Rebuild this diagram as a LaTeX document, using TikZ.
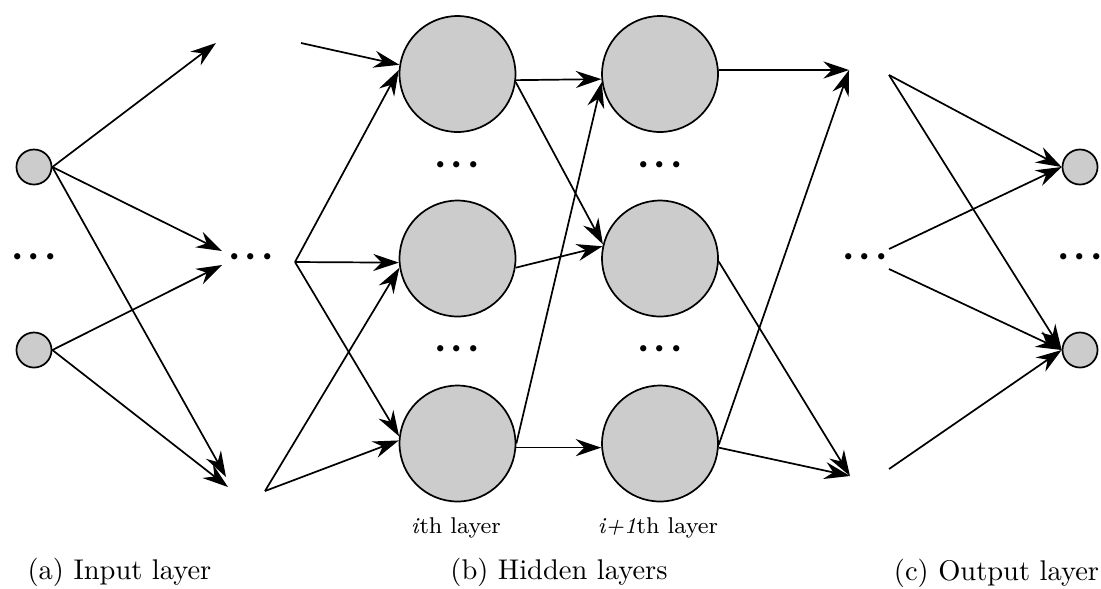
\documentclass[tikz,border=0pt]{standalone}
\usetikzlibrary{arrows.meta}
\begin{document}
\begin{tikzpicture}[x=0.351pt,y=-0.351pt,
  edge/.style={line width=0.6pt,-{Stealth[length=9pt,width=6pt,inset=3pt]}},
  neuron/.style={circle,draw,line width=0.6pt,fill=black!20,inner sep=0pt},
  bigneuron/.style={neuron,minimum size=40.7pt},
  smallneuron/.style={neuron,minimum size=12.3pt},
  ellipsis/.style={font=\huge,inner sep=0pt},
  layerlabel/.style={font=\footnotesize,anchor=base},
  subcap/.style={anchor=base}]
\newcommand{\threedots}{\kern-2pt${\cdot}{\cdot}{\cdot}$\kern-2pt}
\path[use as bounding box] (0,0) rectangle (1101,588);

% ---------- (a) input layer ----------
\node[smallneuron] (in1) at (34,167) {};
\node[smallneuron] (in2) at (34,350) {};
\node[ellipsis] (indots) at (34,258) {\threedots};
\node[ellipsis] (hdots) at (251,258) {\threedots};
\coordinate (a1) at (216,43);
\coordinate (a2) at (222,251);
\coordinate (a3) at (222,265);
\coordinate (a4) at (226,477);
\coordinate (a5) at (228,487);
\draw[edge] (in1.east) -- (a1);
\draw[edge] (in1.east) -- (a2);
\draw[edge] (in1.east) -- (a4);
\draw[edge] (in2.east) -- (a3);
\draw[edge] (in2.east) -- (a5);

% ---------- (b) hidden layers ----------
\node[bigneuron] (i1) at (457.5,74) {};
\node[bigneuron] (i2) at (457.5,258.5) {};
\node[bigneuron] (i3) at (457.5,443.5) {};
\node[bigneuron] (j1) at (660,74) {};
\node[bigneuron] (j2) at (660,258.5) {};
\node[bigneuron] (j3) at (660,443.5) {};
\node[ellipsis] (idots1) at (457,166) {\threedots};
\node[ellipsis] (idots2) at (457,350) {\threedots};
\node[ellipsis] (jdots1) at (660,166) {\threedots};
\node[ellipsis] (jdots2) at (660,350) {\threedots};

\coordinate (b1) at (301,43);
\coordinate (b2) at (295,262);
\coordinate (b3) at (265,491);
\draw[edge] (b1) -- (i1.171);
\draw[edge] (b2) -- (i1.176);
\draw[edge] (b2) -- (i2.184);
\draw[edge] (b2) -- (i3.173);
\draw[edge] (b3) -- (i2.189);
\draw[edge] (b3) -- (i3.177);

\draw[edge] (i1.-6) -- (j1.185);
\draw[edge] (i1.-8) -- (j2.166);
\draw[edge] (i2.-9) -- (j2.168);
\draw[edge] (i3.0) -- (j1.188);
\draw[edge] (i3.-4) -- (j3.184);

\coordinate (c1) at (849,70);
\coordinate (c2) at (850,476);
\draw[edge] (j1.4) -- (c1);
\draw[edge] (j3.-1) -- (c1);
\draw[edge] (j2.-3) -- (c2);
\draw[edge] (j3.-4) -- (c2);

\node[layerlabel] (li) at (456,533) {\textit{i}th layer};
\node[layerlabel] (lj) at (658,533) {\textit{i+1}th layer};

% ---------- (c) output layer ----------
\node[smallneuron] (o1) at (1080,167) {};
\node[smallneuron] (o2) at (1080,350) {};
\node[ellipsis] (odots) at (865,258) {\threedots};
\node[ellipsis] (outdots) at (1080,258) {\threedots};
\coordinate (d1) at (889,75);
\coordinate (d2) at (889,249);
\coordinate (d3) at (889,269);
\coordinate (d4) at (889,469);
\draw[edge] (d1) -- (o1.west);
\draw[edge] (d1) -- (o2.west);
\draw[edge] (d2) -- (o1.west);
\draw[edge] (d3) -- (o2.west);
\draw[edge] (d4) -- (o2.west);

% ---------- captions ----------
\node[subcap] (capa) at (119.5,579) {(a) Input layer};
\node[subcap] (capb) at (559,579) {(b) Hidden layers};
\node[subcap] (capc) at (996.5,580) {(c) Output layer};
\end{tikzpicture}
\end{document}
